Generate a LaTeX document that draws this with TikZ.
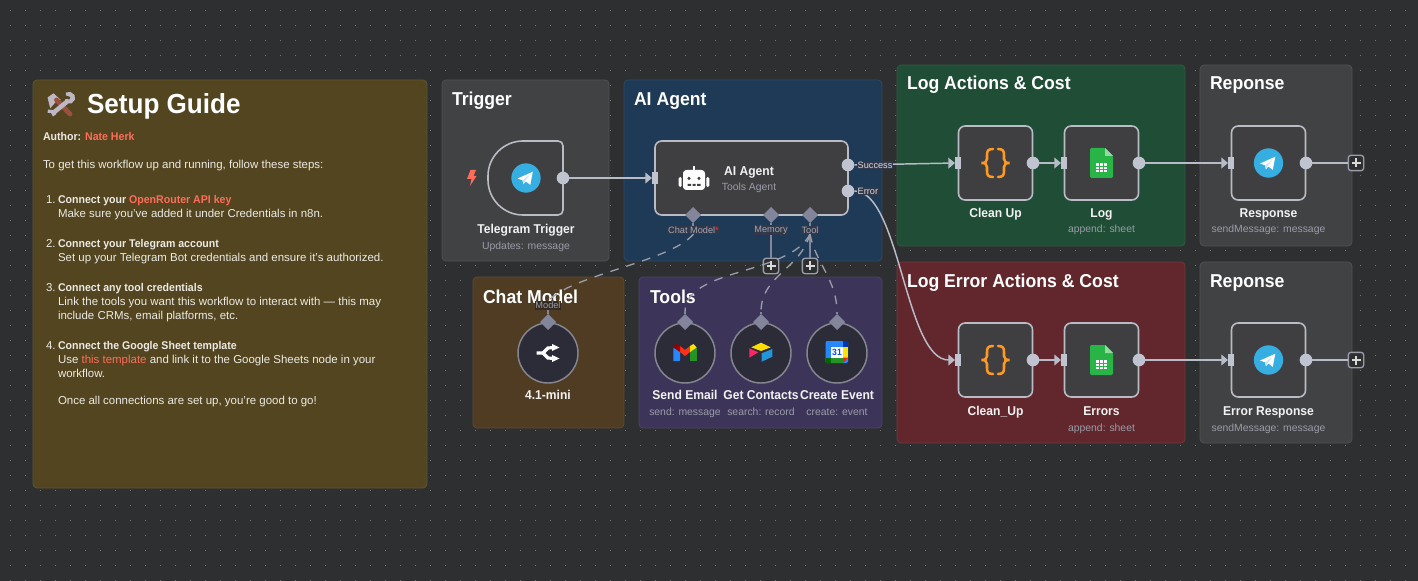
\documentclass[tikz,border=0pt]{standalone}
\usepackage{fontspec}
\setmainfont{Liberation Sans}[BoldFeatures={FakeStretch=0.945}]
\usetikzlibrary{arrows.meta,shapes.geometric}
\definecolor{bgc}{HTML}{2E2F30}
\definecolor{dotc}{HTML}{747678}
\definecolor{pguide}{HTML}{52451F}
\definecolor{pgrey}{HTML}{414244}
\definecolor{pblue}{HTML}{1F3A56}
\definecolor{pbrown}{HTML}{4F3C22}
\definecolor{ppurple}{HTML}{3D3559}
\definecolor{pgreen}{HTML}{1F4D35}
\definecolor{pred}{HTML}{62272D}
\definecolor{nodefill}{HTML}{3F3F41}
\definecolor{nodeline}{HTML}{B9BCC5}
\definecolor{wirec}{HTML}{B8BCC8}
\definecolor{portc}{HTML}{C0C4D0}
\definecolor{subport}{HTML}{83859A}
\definecolor{subtext}{HTML}{9A9CA8}
\definecolor{accent}{HTML}{FF6D5A}
\definecolor{guidetext}{HTML}{ECEAE4}
\definecolor{toolfill}{HTML}{2B2C38}
\definecolor{toolline}{HTML}{85868F}
\definecolor{lblbg}{HTML}{30384A}
\definecolor{tgblue}{HTML}{37AEE2}
\definecolor{sheetg}{HTML}{28B446}
\definecolor{bracec}{HTML}{FF9922}
\definecolor{hamgrey}{HTML}{BDB8C4}
\definecolor{hambrown}{HTML}{9C4F3E}
\tikzset{
  x=0.75pt,y=-0.75pt,outer sep=0pt,
  panel/.style={draw=white!8!#1,fill=#1,line width=0.6pt,rounded corners=3pt,inner sep=0pt},
  ptitle/.style={anchor=base west,inner sep=0pt,text=white,font=\fontsize{14}{16}\selectfont\bfseries},
  gtext/.style={anchor=base west,inner sep=0pt,yshift=-0.6pt,text=guidetext,font=\fontsize{8.6}{10}\selectfont},
  gbold/.style={gtext,font=\fontsize{8.4}{10}\selectfont\bfseries},
  flow/.style={draw=nodeline,fill=nodefill,line width=1.2pt,rounded corners=5pt,minimum width=55.5pt,minimum height=55.5pt,inner sep=0pt},
  toolc/.style={circle,draw=toolline,fill=toolfill,line width=1.1pt,minimum size=45pt,inner sep=0pt},
  outp/.style={circle,fill=portc,minimum size=9.5pt,inner sep=0pt},
  inp/.style={rectangle,fill=portc,minimum width=4.5pt,minimum height=9.5pt,inner sep=0pt},
  subp/.style={diamond,fill=subport,minimum size=12pt,inner sep=0pt},
  wire/.style={draw=wirec,line width=1.1pt,-{Triangle[length=5pt,width=8pt]}},
  stub/.style={draw=wirec,line width=1.1pt},
  substem/.style={draw=subport,line width=1.5pt},
  dashw/.style={draw=subtext,line width=1pt,dash pattern=on 6.5pt off 6pt},
  nname/.style={anchor=base,inner sep=0pt,yshift=-0.4pt,text=white!95!black,font=\fontsize{9.6}{11}\selectfont\bfseries},
  nsub/.style={anchor=base,inner sep=0pt,text=subtext,font=\fontsize{7.8}{10}\selectfont},
  portlbl/.style={inner sep=0.5pt,fill=lblbg,text=subtext!90!white,font=\fontsize{6.9}{8}\selectfont},
  outlbl/.style={anchor=west,inner sep=0.5pt,fill=lblbg,text=white!85!black,font=\fontsize{6.9}{8}\selectfont},
  plusbox/.style={draw=subtext,fill=bgc,line width=1pt,rounded corners=2pt,minimum size=11.5pt,inner sep=0pt,
    path picture={\draw[white!85!black,line width=1pt] (path picture bounding box.center) +(-4.5,0) -- +(4.5,0) (path picture bounding box.center) +(0,-4.5) -- +(0,4.5);}},
}
\newcommand{\tgicon}[2]{\begin{scope}[shift={(#1,#2)}]
  \fill[tgblue] (0,0) circle (11pt);
  \fill[white] (-8.5,0.5) -- (6.8,-6.3) -- (4.3,6.8) -- (-0.2,3.5) -- (-2.6,6.2) -- (-3.4,2.3) -- cycle;
  \fill[black!12!tgblue!25!white] (-3.4,2.3) -- (3.8,-3) -- (-0.9,3) -- (-2.6,6.2) -- cycle;
\end{scope}}
\newcommand{\bracesicon}[2]{\begin{scope}[shift={(#1,#2)}]
  \foreach \s in {1,-1}{
  \draw[bracec,line width=1.9pt,line cap=round,xscale=\s] (-2.5,-14) .. controls (-7.5,-14) and (-8.5,-12) .. (-8.5,-8) -- (-8.5,-4) .. controls (-8.5,-1) and (-10.5,0) .. (-14,0) .. controls (-10.5,0) and (-8.5,1) .. (-8.5,4) -- (-8.5,8) .. controls (-8.5,12) and (-7.5,14) .. (-2.5,14);}
\end{scope}}
\newcommand{\sheeticon}[2]{\begin{scope}[shift={(#1,#2)}]
  \fill[sheetg,rounded corners=1pt] (-11.5,-15) -- (3.5,-15) -- (11.5,-7) -- (11.5,15) -- (-11.5,15) -- cycle;
  \fill[sheetg!50!white] (3.5,-15) -- (11.5,-7) -- (3.5,-7) -- cycle;
  \fill[white] (-5.5,0) rectangle (5.5,9);
  \draw[sheetg,line width=0.5pt] (-5.5,3) -- (5.5,3) (-5.5,6) -- (5.5,6) (-1.8,0) -- (-1.8,9) (1.8,0) -- (1.8,9);
\end{scope}}
\begin{document}
\begin{tikzpicture}
\path[use as bounding box,fill=bgc] (0,0) rectangle (1418,581);
\foreach \i in {0,...,93}{\foreach \j in {0,...,38}{
  \fill[dotc] ({10+15*\i-0.5},{10+15*\j}) rectangle +(1,1);}}

% panels
\node[panel=pguide,minimum width=295.5pt,minimum height=306pt] (pGuide) at (230,284) {};
\node[panel=pgrey,minimum width=125.25pt,minimum height=135.75pt] (pTrig) at (525.5,170.5) {};
\node[panel=pblue,minimum width=193.5pt,minimum height=135.75pt] (pAgent) at (753,170.5) {};
\node[panel=pbrown,minimum width=113.25pt,minimum height=113.25pt] (pModel) at (548.5,352.5) {};
\node[panel=ppurple,minimum width=182.25pt,minimum height=113.25pt] (pTools) at (760.5,352.5) {};
\node[panel=pgreen,minimum width=216pt,minimum height=135.75pt] (pLog) at (1041,155.5) {};
\node[panel=pgrey,minimum width=114pt,minimum height=135.75pt] (pResp) at (1276,155.5) {};
\node[panel=pred,minimum width=216pt,minimum height=135.75pt] (pErr) at (1041,352.5) {};
\node[panel=pgrey,minimum width=114pt,minimum height=135.75pt] (pResp2) at (1276,352.5) {};

\node[ptitle] (tTrig) at (452,106) {Trigger};
\node[ptitle] (tAgent) at (634,106) {AI Agent};
\node[ptitle] (tModel) at (483,303) {Chat Model};
\node[ptitle] (tTools) at (650,303) {Tools};
\node[ptitle] (tLog) at (907,90) {Log Actions \& Cost};
\node[ptitle] (tResp) at (1210,90) {Reponse};
\node[ptitle] (tErr) at (907,287) {Log Error Actions \& Cost};
\node[ptitle] (tResp2) at (1210,287) {Reponse};

% setup guide
\begin{scope}[shift={(-2.5,0)}]
\fill[hamgrey] (50,97.5) -- (56,93.3) -- (63.3,100) -- (58.3,102) -- (52.7,108.3) -- cycle;
\draw[line width=3.6pt,color=hambrown,line cap=round] (59,100) -- (72.5,114);
\draw[line width=3.4pt,color=hamgrey] (71,100.5) -- (55,113.5);
\fill[hamgrey] (55,110) -- (50.5,109.5) -- (50,113) -- (53.5,113) -- (55.5,116.5) -- (59,114) -- cycle;
\fill[hamgrey] (68.3,92.5) -- (73,92) -- (77,95) -- (77.5,99.5) -- (74,103.5) -- (69.5,103) -- (67.5,99) -- (72,99.5) -- (73,97) -- (68.5,95.5) -- cycle;
\end{scope}
\node[anchor=base west,inner sep=0pt,text=white,font=\fontsize{20.7}{24}\selectfont\bfseries] (gTitle) at (87,114) {Setup Guide};
\node[gbold] (g1) at (43,140) {Author: \textcolor{accent}{Nate Herk}};
\node[gtext] (g2) at (43,168) {To get this workflow up and running, follow these steps:};
\node[gtext] (n1) at (46,203) {1.};
\node[gbold] (g3) at (58,203) {Connect your \textcolor{accent}{OpenRouter API key}};
\node[gtext] (g4) at (58,217) {Make sure you’ve added it under Credentials in n8n.};
\node[gtext] (n2) at (46,247) {2.};
\node[gbold] (g5) at (58,247) {Connect your Telegram account};
\node[gtext] (g6) at (58,261) {Set up your Telegram Bot credentials and ensure it’s authorized.};
\node[gtext] (n3) at (46,291) {3.};
\node[gbold] (g7) at (58,291) {Connect any tool credentials};
\node[gtext] (g8) at (58,305) {Link the tools you want this workflow to interact with — this may};
\node[gtext] (g9) at (58,319) {include CRMs, email platforms, etc.};
\node[gtext] (n4) at (46,349) {4.};
\node[gbold] (g10) at (58,349) {Connect the Google Sheet template};
\node[gtext] (g11) at (58,363) {Use \textcolor{accent}{this template} and link it to the Google Sheets node in your};
\node[gtext] (g12) at (58,377) {workflow.};
\node[gtext] (g13) at (58,404) {Once all connections are set up, you’re good to go!};

% trigger node
\path[draw=nodeline,fill=nodefill,line width=1.2pt] (558,141) -- (523,141) .. controls (503.7,141) and (488,156.7) .. (488,176) -- (488,180) .. controls (488,199.3) and (503.7,215) .. (523,215) -- (558,215) .. controls (561,215) and (563,213) .. (563,210) -- (563,146) .. controls (563,143) and (561,141) .. (558,141) -- cycle;
\fill[accent] (470.5,170) -- (476,170) -- (473.5,176) -- (476.5,176) -- (470,186) -- (471.5,179) -- (467,179) -- cycle;
\tgicon{526}{178}
\node[outp] (trigOut) at (563,178) {};
\node[nname] (lTrig) at (526,233) {Telegram Trigger};
\node[nsub] (sTrig) at (526,249) {Updates: message};

% agent
\node[flow,minimum width=144.75pt] (agent) at (751.5,178) {};
\begin{scope}[shift={(694,178)}]
  \fill[white,rounded corners=2.5pt] (-11,-8) rectangle (11,12);
  \fill[white,rounded corners=1pt] (-15.3,-1) rectangle (-12.3,9) (12.3,-1) rectangle (15.3,9);
  \fill[white] (-1.2,-12) rectangle (1.2,-8);
  \fill[nodefill] (-5,0.3) circle (1.3pt) (5,0.3) circle (1.3pt);
  \fill[nodefill] (-6.5,6) rectangle (-3,8) (-1.5,6) rectangle (1.5,8) (3,6) rectangle (6.5,8);
\end{scope}
\node[nname] (lAgent) at (749,175) {AI Agent};
\node[nsub] (sAgent) at (749,191) {Tools Agent};
\node[inp] (agentIn) at (655,178) {};
\node[outp] (agentOk) at (848,165) {};
\node[outp] (agentErr) at (848,191) {};
\node[subp] (pChat) at (693,215) {};
\node[subp] (pMem) at (771,215) {};
\node[subp] (pTool) at (810,215) {};

% add buttons
\node[plusbox] (plusMem) at (771,266) {};
\node[plusbox] (plusTool) at (810,266) {};
\draw[substem] (pChat.south) -- +(0,8);
\draw[substem] (pMem.south) -- (plusMem.north);
\draw[substem] (pTool.south) -- (plusTool.north);
\node[portlbl] (lChat) at (693.5,230) {Chat Model\textcolor{red!80!white}{*}};
\node[portlbl] (lMem) at (771,230) {Memory};
\node[portlbl] (lTool) at (810,230) {Tool};

% tool nodes
\node[toolc] (model) at (548,353) {};
\node[toolc] (gmail) at (685,353) {};
\node[toolc] (airt) at (761,353) {};
\node[toolc] (cal) at (837,353) {};
\node[subp] (pModelT) at (548,322) {};
\node[subp] (pGmail) at (685,322) {};
\node[subp] (pAirt) at (761,322) {};
\node[subp] (pCal) at (837,322) {};
\draw[substem] (pModelT.north) -- +(0,-8);
\node[portlbl,text=subtext,fill=black!35!pbrown!75!lblbg] (lModel) at (548,305.5) {Model};
\node[coordinate] (gmailTop) at (685,312) {};
\node[coordinate] (airtTop) at (761,312) {};
\node[coordinate] (calTop) at (837,312) {};
\draw[dashw] (lChat.south) .. controls (670,262) and (570,275) .. (lModel.north);
\draw[dashw] (lTool.south) .. controls (790,275) and (685,268) .. (gmailTop);
\draw[dashw] (lTool.south) .. controls (800,270) and (761,275) .. (airtTop);
\draw[dashw] (lTool.south) .. controls (815,262) and (837,280) .. (calTop);
\draw[substem] (gmailTop) -- (pGmail.north) (airtTop) -- (pAirt.north) (calTop) -- (pCal.north);

% openrouter icon
\begin{scope}[shift={(548,353)}]
  \draw[white,line width=2.4pt] (-11.5,0) -- (-5,0) -- (0,-5) -- (7,-5.5) (-5,0) -- (0,5) -- (7,5.5);
  \fill[white] (4,-9) -- (11.5,-5.5) -- (4,-2) -- cycle (4,2) -- (11.5,5.5) -- (4,9) -- cycle;
\end{scope}
% gmail icon
\begin{scope}[shift={(685,353)}]
  \fill[blue!55!cyan!85!white,rounded corners=0.5pt] (-11.7,-5) rectangle (-5,8);
  \fill[green!50!black!85!white] (5,-5) rectangle (11.7,8);
  \fill[red!80!orange!90!white] (-5,-7) -- (0,-3) -- (5,-7) -- (5,-1) -- (0,3) -- (-5,-1) -- cycle;
  \fill[red!60!black] (-11.7,-5.5) -- (-8.5,-9) -- (-5,-7) -- (-5,-1) -- cycle;
  \fill[yellow!85!orange] (5,-7) -- (8.5,-9) -- (11.7,-5.5) -- (5,-1) -- cycle;
\end{scope}
% airtable icon
\begin{scope}[shift={(761,353)}]
  \fill[yellow!80!orange] (-9.7,-5.7) -- (0,-10.3) -- (9.7,-5.7) -- (0,-2) -- cycle;
  \fill[red!70!magenta!85!white] (-11.7,-4.7) -- (-2.7,-0.7) -- (-11.7,4.7) -- cycle;
  \fill[cyan!75!blue!90!white] (0.7,0.3) -- (11.3,-4) -- (11.3,3.7) -- (0.7,8.7) -- cycle;
\end{scope}
% calendar icon
\begin{scope}[shift={(837,353)}]
  \fill[blue!55!cyan!85!white,rounded corners=1pt] (-11.5,-12) rectangle (11,10);
  \fill[blue!70!cyan!70!black] (6,-12) rectangle (11,-6.3);
  \fill[yellow!85!orange] (6,-6.3) rectangle (11,4.7);
  \fill[green!50!black!85!white] (-6,4.7) rectangle (6,10);
  \fill[green!40!black] (-11.5,4.7) rectangle (-6,10);
  \fill[red!75!orange] (6,4.7) -- (11,4.7) -- (6,10) -- cycle;
  \node[fill=white,text=blue!70!cyan,inner sep=0pt,minimum width=9pt,minimum height=8.3pt,font=\fontsize{6.8}{7}\selectfont\bfseries] (calNum) at (0,-0.8) {31};
\end{scope}
\node[nname] (lModelN) at (548,399) {4.1-mini};
\node[nname] (lGmail) at (685,399) {Send Email};
\node[nname] (lAirt) at (761,399) {Get Contacts};
\node[nname] (lCal) at (837,399) {Create Event};
\node[nsub] (sGmail) at (685,415) {send: message};
\node[nsub] (sAirt) at (761,415) {search: record};
\node[nsub] (sCal) at (837,415) {create: event};

% log row
\node[flow] (clean) at (995.5,163) {};
\node[flow] (log) at (1101.5,163) {};
\node[flow] (resp) at (1268.5,163) {};
\bracesicon{995.5}{163}
\sheeticon{1101.5}{163}
\tgicon{1268.5}{163}
\node[inp] (cleanIn) at (958,163) {};
\node[outp] (cleanOut) at (1033,163) {};
\node[inp] (logIn) at (1064,163) {};
\node[outp] (logOut) at (1139,163) {};
\node[inp] (respIn) at (1231,163) {};
\node[outp] (respOut) at (1306,163) {};
\node[plusbox] (plusResp) at (1356,163) {};
\node[nname] (lClean) at (995.5,217) {Clean Up};
\node[nname] (lLog) at (1101.5,217) {Log};
\node[nsub] (sLog) at (1101.5,233) {append: sheet};
\node[nname] (lResp) at (1268.5,217) {Response};
\node[nsub] (sResp) at (1268.5,233) {sendMessage: message};

% error row
\node[flow] (clean2) at (995.5,360) {};
\node[flow] (errs) at (1101.5,360) {};
\node[flow] (resp2) at (1268.5,360) {};
\bracesicon{995.5}{360}
\sheeticon{1101.5}{360}
\tgicon{1268.5}{360}
\node[inp] (clean2In) at (958,360) {};
\node[outp] (clean2Out) at (1033,360) {};
\node[inp] (errsIn) at (1064,360) {};
\node[outp] (errsOut) at (1139,360) {};
\node[inp] (resp2In) at (1231,360) {};
\node[outp] (resp2Out) at (1306,360) {};
\node[plusbox] (plusResp2) at (1356,360) {};
\node[nname] (lClean2) at (995.5,415) {Clean\_Up};
\node[nname] (lErrs) at (1101.5,415) {Errors};
\node[nsub] (sErrs) at (1101.5,431) {append: sheet};
\node[nname] (lResp2) at (1268.5,415) {Error Response};
\node[nsub] (sResp2) at (1268.5,431) {sendMessage: message};

% connectors
\draw[wire] (trigOut.east) -- (agentIn.west);
\draw[wire] (agentOk.east) -- (cleanIn.west);
\draw[wire] (agentErr.east) .. controls (900,191) and (905,360) .. (clean2In.west);
\draw[wire] (cleanOut.east) -- (logIn.west);
\draw[wire] (logOut.east) -- (respIn.west);
\draw[stub] (respOut.east) -- (plusResp.west);
\draw[wire] (clean2Out.east) -- (errsIn.west);
\draw[wire] (errsOut.east) -- (resp2In.west);
\draw[stub] (resp2Out.east) -- (plusResp2.west);
\node[outlbl] (lOk) at (857,165) {Success};
\node[outlbl] (lErr) at (857,191) {Error};
\end{tikzpicture}
\end{document}
